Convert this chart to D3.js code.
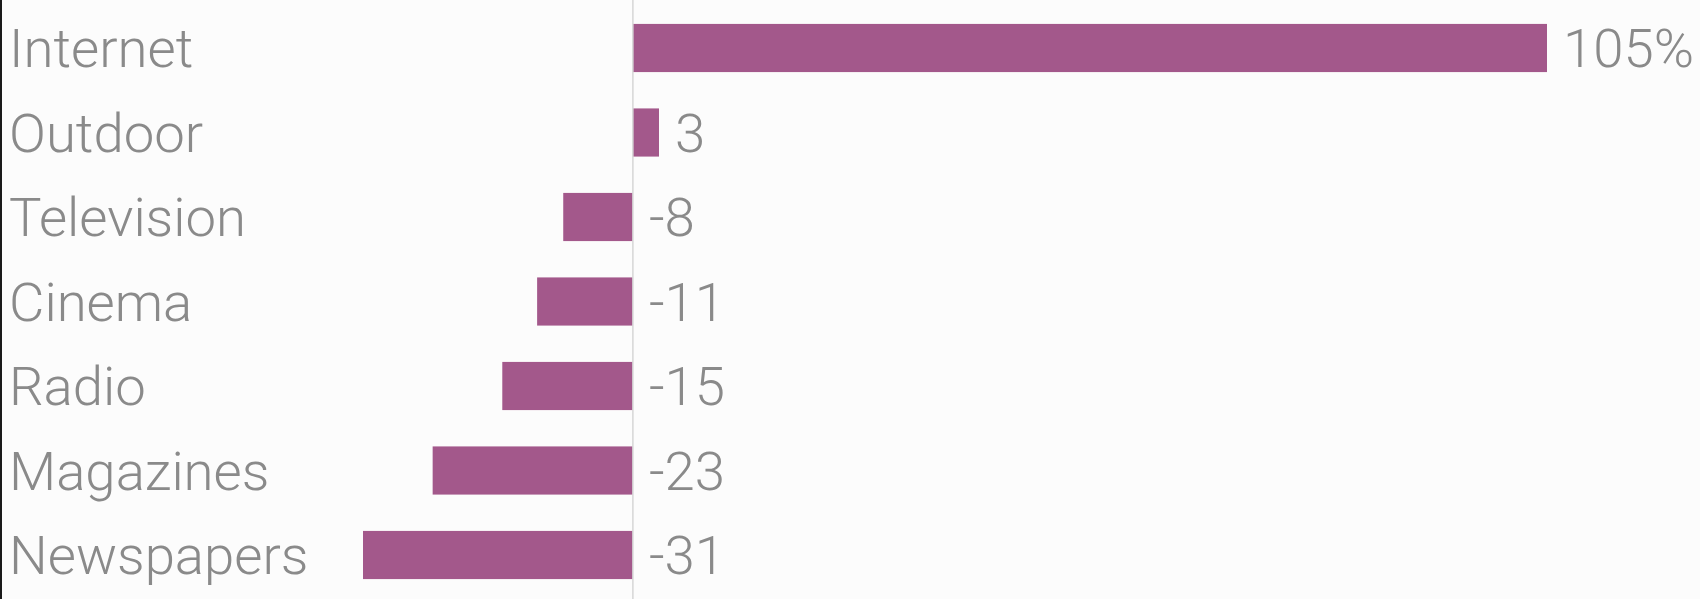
<!DOCTYPE html>
<html>
<head>
<meta charset="utf-8">
<script src="https://cdn.jsdelivr.net/npm/d3@7"></script>
<style>
  html, body { margin: 0; padding: 0; background: #fcfcfc; }
  svg { display: block; }
  .label { font-family: Roboto, "Liberation Sans", sans-serif; font-weight: 300; fill: #8a8a8a; }
</style>
</head>
<body>
<svg width="1700" height="599"></svg>
<script>
// Change in ad spending by medium
const categories = ["Internet", "Outdoor", "Television", "Cinema", "Radio", "Magazines", "Newspapers"];
const values = [105, 3, -8, -11, -15, -23, -31];
const valueLabels = ["105%", "3", "-8", "-11", "-15", "-23", "-31"];

const data = categories.map((c, i) => ({ name: c, value: values[i], label: valueLabels[i] }));

const svg = d3.select("svg");
const W = 1700, H = 599;

svg.append("rect").attr("width", W).attr("height", H).attr("fill", "#fcfcfc");
// thin dark edge on the left like the source capture
svg.append("rect").attr("x", 0).attr("y", 0).attr("width", 2).attr("height", H).attr("fill", "#1a1a1a");

const x = d3.scaleLinear()
  .domain([d3.min(values), d3.max(values)])
  .range([363, 1547]);

const y = d3.scaleBand()
  .domain(categories)
  .range([5.75, 597.25])
  .paddingInner(0.43)
  .paddingOuter(0.215);

const g = svg.append("g");

// bars
g.selectAll(".bar")
  .data(data)
  .enter().append("rect")
    .attr("class", "bar")
    .attr("x", d => x(Math.min(0, d.value)))
    .attr("y", d => y(d.name))
    .attr("width", d => Math.abs(x(d.value) - x(0)))
    .attr("height", y.bandwidth())
    .attr("fill", "#a3588b");

// zero line
g.append("line")
  .attr("x1", x(0)).attr("x2", x(0))
  .attr("y1", 0).attr("y2", H)
  .attr("stroke", "#d6d6d6")
  .attr("stroke-width", 1.5);

const fs = 54.5;

// category labels
g.selectAll(".cat")
  .data(data)
  .enter().append("text")
    .attr("class", "label cat")
    .attr("x", 9)
    .attr("y", d => y(d.name) + y.bandwidth() / 2 + 19)
    .style("font-size", fs + "px")
    .text(d => d.name);

// value labels
g.selectAll(".val")
  .data(data)
  .enter().append("text")
    .attr("class", "label val")
    .attr("x", d => x(Math.max(0, d.value)) + 16)
    .attr("y", d => y(d.name) + y.bandwidth() / 2 + 19)
    .style("font-size", fs + "px")
    .text(d => d.label);
</script>
</body>
</html>
